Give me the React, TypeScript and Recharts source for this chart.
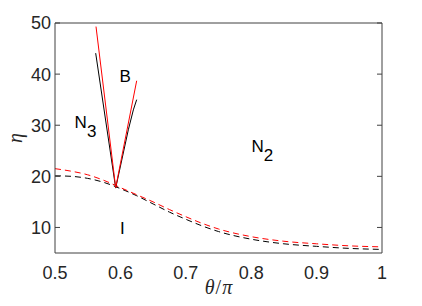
import { LineChart, Line, XAxis, YAxis, ReferenceDot, Label } from "recharts";

// theta/pi values
const thetaDashed = [0.5, 0.525, 0.55, 0.575, 0.6, 0.625, 0.65, 0.675, 0.7, 0.725, 0.75, 0.8, 0.85, 0.9, 0.95, 1.0];
const etaBlackDashed = [20.1, 20.0, 19.6, 18.8, 17.6, 16.2, 14.6, 13.0, 11.6, 10.3, 9.2, 7.7, 6.8, 6.3, 5.9, 5.7];
const etaRedDashed = [21.5, 21.0, 20.3, 19.2, 17.8, 16.4, 15.0, 13.5, 12.1, 10.8, 9.7, 8.2, 7.3, 6.8, 6.4, 6.2];

const thetaBlackV = [0.5622, 0.5928, 0.6121, 0.6198, 0.6249];
const etaBlackV = [44.1, 17.7, 29.1, 33.0, 35.0];
const thetaRedV = [0.5627, 0.5928, 0.6249];
const etaRedV = [49.3, 17.8, 38.7];

const xTicks = [0.5, 0.6, 0.7, 0.8, 0.9, 1];
const yTicks = [10, 20, 30, 40, 50];

const regionLabels = [
  { x: 0.5985, y: 38.55, text: "B", sub: "" },
  { x: 0.53, y: 29.45, text: "N", sub: "3" },
  { x: 0.8005, y: 24.8, text: "N", sub: "2" },
  { x: 0.5995, y: 8.63, text: "I", sub: "" },
];

const zip = (xs: number[], ys: number[]) => xs.map((x, i) => ({ x, y: ys[i] }));

const AXIS = "#404040";
const TEXT = "#262626";
const tickFont = { fill: TEXT, fontSize: 18, fontFamily: "Liberation Sans, Arial, sans-serif" };
const blank = () => "";

export default function App() {
  return (
    <div style={{ position: "absolute", left: 0, top: 0, background: "#fff" }}>
      <LineChart width={422} height={306} margin={{ top: 23, right: 40, left: 0, bottom: 0 }}>
        <XAxis
          xAxisId="x"
          dataKey="x"
          type="number"
          domain={[0.5, 1]}
          ticks={xTicks}
          allowDataOverflow
          height={53}
          stroke={AXIS}
          tickLine={false}
          tickSize={0}
          tickMargin={13}
          tick={tickFont}
          tickFormatter={(v: number) => (v === 1 ? "1" : v.toFixed(1))}
        >
          <Label
            content={({ viewBox }: any) => (
              <text
                x={viewBox.x + viewBox.width / 2}
                y={viewBox.y + 41}
                textAnchor="middle"
                fontFamily="Liberation Serif, serif"
                fontSize={20}
                fill={TEXT}
              >
                <tspan fontStyle="italic">θ</tspan>
                <tspan dx={1}>/</tspan>
                <tspan dx={1} fontStyle="italic">π</tspan>
              </text>
            )}
          />
        </XAxis>
        <XAxis xAxisId="xb" type="number" domain={[0.5, 1]} ticks={xTicks} allowDataOverflow mirror
          stroke={AXIS} axisLine={false} tickSize={5} tickFormatter={blank} />
        <XAxis xAxisId="xt" orientation="top" type="number" domain={[0.5, 1]} ticks={xTicks} allowDataOverflow mirror
          stroke={AXIS} tickSize={5} tickFormatter={blank} />
        <YAxis
          yAxisId="y"
          type="number"
          domain={[5, 50]}
          ticks={yTicks}
          allowDataOverflow
          width={55}
          stroke={AXIS}
          tickLine={false}
          tickSize={0}
          tickMargin={4}
          tick={tickFont}
        >
          <Label
            content={({ viewBox }: any) => {
              const cx = viewBox.x + 15;
              const cy = viewBox.y + viewBox.height / 2;
              return (
                <text
                  x={cx}
                  y={cy}
                  transform={`rotate(-90, ${cx}, ${cy})`}
                  textAnchor="middle"
                  dominantBaseline="central"
                  fontFamily="Liberation Serif, serif"
                  fontStyle="italic"
                  fontSize={20}
                  fill={TEXT}
                >
                  η
                </text>
              );
            }}
          />
        </YAxis>
        <YAxis yAxisId="yl" type="number" domain={[5, 50]} ticks={yTicks} allowDataOverflow mirror
          stroke={AXIS} axisLine={false} tickSize={5} tickFormatter={blank} />
        <YAxis yAxisId="yr" orientation="right" type="number" domain={[5, 50]} ticks={yTicks} allowDataOverflow mirror
          stroke={AXIS} tickSize={5} tickFormatter={blank} />

        <Line xAxisId="x" yAxisId="y" data={zip(thetaDashed, etaBlackDashed)} dataKey="y" type="monotone"
          stroke="#000" strokeWidth={1} strokeDasharray="6 4" dot={false} isAnimationActive={false} />
        <Line xAxisId="x" yAxisId="y" data={zip(thetaDashed, etaRedDashed)} dataKey="y" type="monotone"
          stroke="#ff0000" strokeWidth={1} strokeDasharray="6 4" dot={false} isAnimationActive={false} />
        <Line xAxisId="x" yAxisId="y" data={zip(thetaBlackV, etaBlackV)} dataKey="y" type="linear"
          stroke="#000" strokeWidth={1} dot={false} isAnimationActive={false} />
        <Line xAxisId="x" yAxisId="y" data={zip(thetaRedV, etaRedV)} dataKey="y" type="linear"
          stroke="#ff0000" strokeWidth={1} dot={false} isAnimationActive={false} />

        {regionLabels.map((l) => (
          <ReferenceDot
            key={l.text + l.sub}
            xAxisId="x"
            yAxisId="y"
            x={l.x}
            y={l.y}
            r={0}
            ifOverflow="visible"
            shape={(p: any) => (
              <text x={p.cx} y={p.cy} fontFamily="Liberation Sans, Arial, sans-serif" fontSize={17} fill="#000">
                {l.text}
                {l.sub && (
                  <tspan dx={0} dy={9} fontSize={17}>
                    {l.sub}
                  </tspan>
                )}
              </text>
            )}
          />
        ))}
      </LineChart>
    </div>
  );
}
